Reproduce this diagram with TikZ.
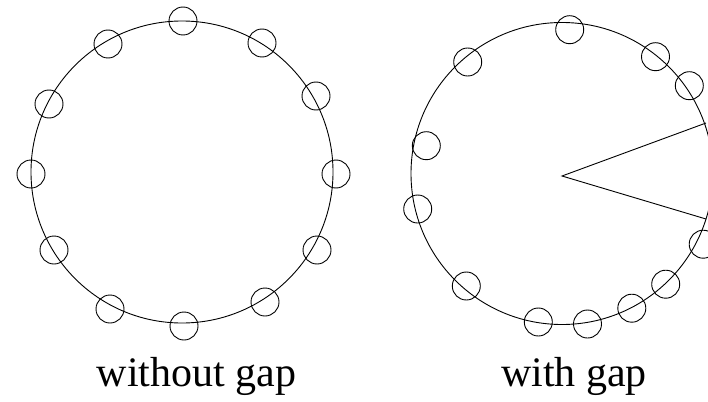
\documentclass[tikz,border=0pt]{standalone}
\usepackage{fontspec}
\setmainfont{Liberation Serif}
\usepackage{tikz}

\begin{document}
\begin{tikzpicture}[
  x=1pt, y=-1pt,
  ring/.style={line width=0.9pt},
  bead/.style={draw, circle, line width=0.9pt, minimum size=28pt, inner sep=0pt},
  lbl/.style={font=\fontsize{42}{48}\selectfont, anchor=base, inner sep=0pt},
]
\useasboundingbox (0,0) rectangle (708,401);
\clip (0,0) rectangle (708,401);
% left ring (even spacing)
\coordinate (cL) at (182,172);
\draw[ring] (cL) circle [radius=151pt];
\foreach \x/\y [count=\i] in {183/21, 262/43, 316/96, 336/174, 317/250, 265/302,
    184/326, 110/309, 54/250, 31/174, 49/104, 108/44}
  \node[bead] (l\i) at (\x,\y) {};
\node[lbl] (lblL) at (196.5,386.7) {without gap};
% right ring (gap on the right side)
\coordinate (cR) at (562,173.5);
\coordinate (apex) at (562,176);
\coordinate (gapU) at (706,123);
\coordinate (gapD) at (706,219);
\draw[ring] (cR) circle [radius=151pt];
\draw[ring] (gapU) -- (apex) -- (gapD);
\foreach \x/\y [count=\i] in {569.7/29.7, 655.5/56.7, 689.3/85.7, 703.2/244.2, 665.7/284.2, 631.8/308.2,
    587.5/324, 538.3/322, 466.3/286, 417.7/209, 426.3/145.7, 467.7/62}
  \node[bead] (r\i) at (\x,\y) {};
\node[lbl] (lblR) at (574,386.7) {with gap};
\end{tikzpicture}
\end{document}
